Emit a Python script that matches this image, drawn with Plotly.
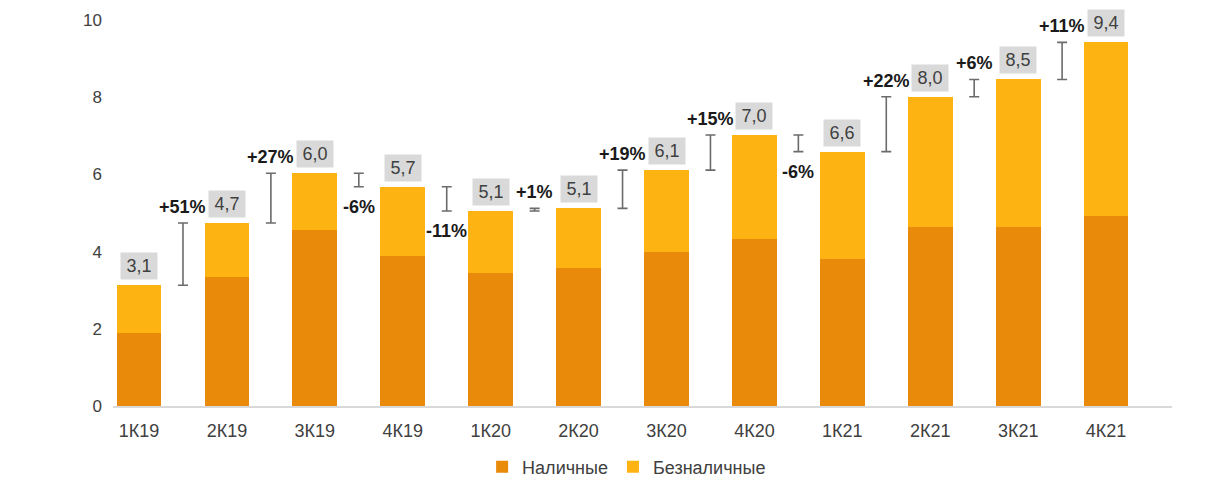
import plotly.graph_objects as go

categories = ["1К19", "2К19", "3К19", "4К19", "1К20", "2К20", "3К20", "4К20", "1К21", "2К21", "3К21", "4К21"]
cash = [1.90, 3.35, 4.56, 3.89, 3.45, 3.57, 4.00, 4.33, 3.81, 4.65, 4.65, 4.92]
noncash = [1.23, 1.39, 1.47, 1.79, 1.60, 1.55, 2.11, 2.69, 2.78, 3.36, 3.81, 4.50]
total_labels = ["3,1", "4,7", "6,0", "5,7", "5,1", "5,1", "6,1", "7,0", "6,6", "8,0", "8,5", "9,4"]
change_labels = ["+51%", "+27%", "-6%", "-11%", "+1%", "+19%", "+15%", "-6%", "+22%", "+6%", "+11%"]
y_ticks = [0, 2, 4, 6, 8, 10]

CASH_COLOR = "#E98A0B"
NONCASH_COLOR = "#FDB312"
FONT = "Liberation Sans, Arial, sans-serif"

x = list(range(len(categories)))
totals = [c + n for c, n in zip(cash, noncash)]

fig = go.Figure()
fig.add_trace(go.Bar(x=x, y=cash, name="Наличные", marker_color=CASH_COLOR,
                     marker_line_width=0, hoverinfo="skip"))
fig.add_trace(go.Bar(x=x, y=noncash, name="Безналичные", marker_color=NONCASH_COLOR,
                     marker_line_width=0, hoverinfo="skip"))

# brackets between consecutive totals
bx, by, berr = [], [], []
for i in range(1, len(totals)):
    a, b = totals[i - 1], totals[i]
    bx.append(i - 0.5)
    by.append((a + b) / 2)
    berr.append(abs(b - a) / 2)
fig.add_trace(go.Scatter(x=bx, y=by, mode="markers", marker=dict(opacity=0, size=1),
                         error_y=dict(type="data", array=berr, symmetric=True, width=5,
                                      thickness=1.6, color="#6b6b6b"),
                         showlegend=False, hoverinfo="skip"))

annotations = []
for i, t in enumerate(totals):
    annotations.append(dict(x=i, y=t, text=total_labels[i], showarrow=False,
                            yanchor="bottom", yshift=5, bgcolor="#D9D9D9",
                            width=30, height=20, borderpad=3,
                            font=dict(family=FONT, size=18, color="#404040")))
for k in range(len(change_labels)):
    i = k + 1
    a, b = totals[i - 1], totals[i]
    up = b >= a
    annotations.append(dict(x=i - 0.5, y=max(a, b) if up else min(a, b),
                            text="<b>" + change_labels[k] + "</b>", showarrow=False,
                            yanchor="middle", yshift=16 if up else -20,
                            font=dict(family=FONT, size=18, color="#1a1a1a")))

fig.update_layout(
    barmode="stack",
    bargap=0.49,
    width=1208, height=483,
    margin=dict(l=105, r=44, t=12, b=85, autoexpand=False),
    paper_bgcolor="white", plot_bgcolor="white",
    font=dict(family=FONT, size=16, color="#404040"),
    annotations=annotations,
    legend=dict(orientation="h", x=0.485, xanchor="center", y=-0.158, yanchor="middle",
                font=dict(family=FONT, size=18, color="#404040"),
                itemwidth=30, traceorder="normal"),
    xaxis=dict(range=[-0.296, 11.75], tickvals=x, ticktext=categories, showgrid=False,
               zeroline=False, showline=True, linecolor="#D9D9D9", linewidth=1.5,
               ticks="", ticklabelstandoff=8,
               tickfont=dict(family=FONT, size=18, color="#404040")),
    yaxis=dict(range=[0, 10], tickvals=y_ticks, showgrid=False, zeroline=False,
               showline=False, ticks="", ticklabelstandoff=10,
               tickfont=dict(family=FONT, size=17, color="#404040")),
)

fig.write_html("out.html")
